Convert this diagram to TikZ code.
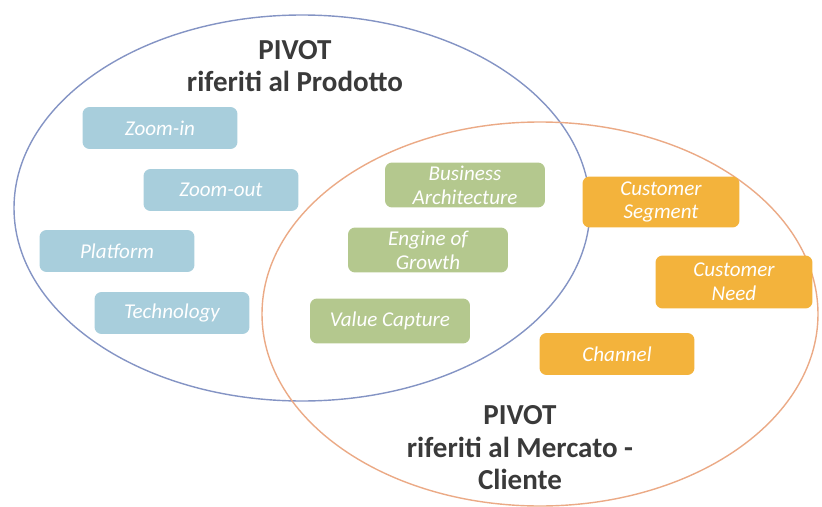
\documentclass[tikz,border=0pt]{standalone}
\usepackage{fontspec}
\setmainfont{Carlito}
\definecolor{blaurand}{HTML}{8494C4}
\definecolor{orangerand}{HTML}{EBAA86}
\definecolor{blaubox}{HTML}{A8CEDC}
\definecolor{gruenbox}{HTML}{B4C88E}
\definecolor{orangebox}{HTML}{F3B33C}
\definecolor{titeltext}{HTML}{3A3A3A}
\tikzset{
	kasten/.style={rounded corners=4pt, minimum width=3.1cm, minimum height=0.84cm, align=center, text=white, font=\itshape\fontsize{12}{13.5}\selectfont, inner sep=1pt},
	titel/.style={align=center, text=titeltext, font=\bfseries\fontsize{16.5}{18.5}\selectfont}
}
\begin{document}
\begin{tikzpicture}[x=0.02cm, y=-0.02cm]
	\useasboundingbox (0,0) rectangle (822,507);
	% Ellipsen
	\draw [blaurand, line width=0.8pt] (302,208) ellipse [x radius=288, y radius=193];
	\draw [orangerand, line width=0.8pt] (540,314) ellipse [x radius=278, y radius=192];
	% Titel
	\node [titel] (prodotto) at (295,66) {PIVOT\\riferiti al Prodotto};
	\node [titel] (mercato) at (520,448) {PIVOT\\riferiti al Mercato -\\Cliente};
	% Produkt
	\node [kasten, fill=blaubox] (zoomin) at (160,128) {Zoom-in};
	\node [kasten, fill=blaubox] (zoomout) at (221,190) {Zoom-out};
	\node [kasten, fill=blaubox] (platform) at (117,251) {Platform};
	\node [kasten, fill=blaubox] (technology) at (172,313) {Technology};
	% Schnittmenge
	\node [kasten, fill=gruenbox, minimum width=3.2cm, minimum height=0.9cm] (business) at (465,185) {Business\\Architecture};
	\node [kasten, fill=gruenbox, minimum width=3.2cm, minimum height=0.9cm] (engine) at (428,250) {Engine of\\Growth};
	\node [kasten, fill=gruenbox, minimum width=3.2cm, minimum height=0.9cm] (value) at (390,321) {Value Capture};
	% Markt
	\node [kasten, fill=orangebox, minimum width=3.14cm, minimum height=1.02cm] (segment) at (661,202) {Customer\\Segment};
	\node [kasten, fill=orangebox, minimum width=3.14cm, minimum height=1.06cm] (need) at (734,282) {Customer\\Need};
	\node [kasten, fill=orangebox] (channel) at (617,354) {Channel};
\end{tikzpicture}
\end{document}
